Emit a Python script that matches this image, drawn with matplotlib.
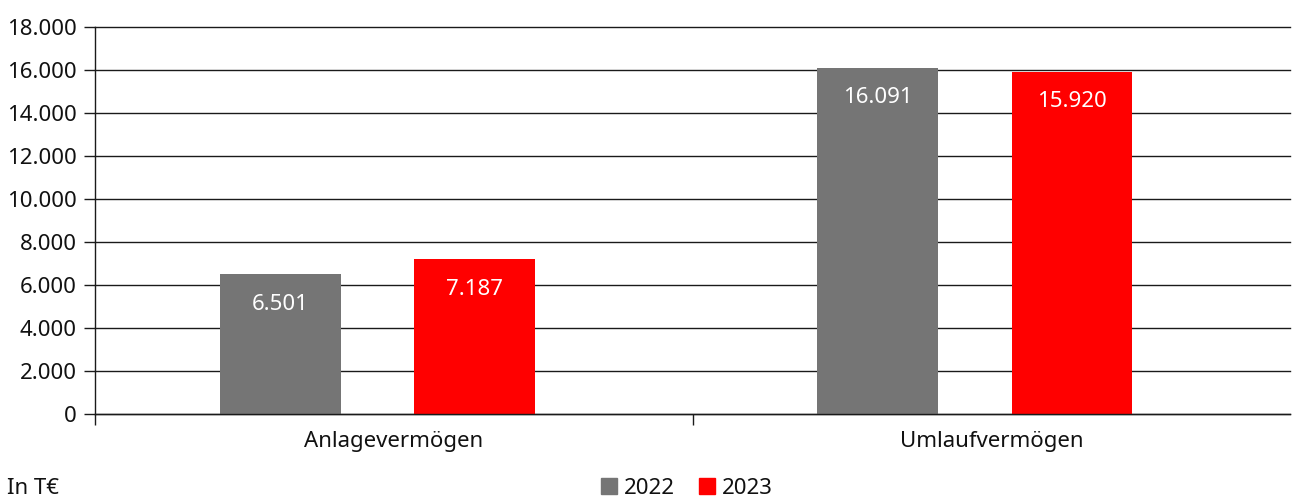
import matplotlib
matplotlib.use("Agg")
import matplotlib.pyplot as plt
import matplotlib.patches as mpatches
import numpy as np

plt.rcParams["font.family"] = ["Noto Sans", "DejaVu Sans"]

# ── data ──────────────────────────────────────────────────────────────────────
categories = ["Anlagevermögen", "Umlaufvermögen"]
years = ["2022", "2023"]
values_2022 = [6501, 16091]
values_2023 = [7187, 15920]
y_ticks = [0, 2000, 4000, 6000, 8000, 10000, 12000, 14000, 16000, 18000]

GREY = "#757575"
RED = "#FF0000"
TEXT = "#111111"
LINE = "#1A1A1A"
FS = 16


def de_fmt(v):
    return f"{v:,.0f}".replace(",", ".")


fig = plt.figure(figsize=(12.93, 5.0), dpi=100, facecolor="white")
ax = fig.add_axes([0.0735, 0.172, 0.9242, 0.774])

centers = np.arange(len(categories)) + 0.5
bar_w = 0.202
b1 = ax.bar(centers - 0.19, values_2022, width=bar_w, color=GREY, zorder=3)
b2 = ax.bar(centers + 0.135, values_2023, width=bar_w, color=RED, zorder=3)

# value labels inside the top of each bar
for bars, vals in ((b1, values_2022), (b2, values_2023)):
    for rect, v in zip(bars, vals):
        ax.annotate(de_fmt(v), (rect.get_x() + rect.get_width() / 2, v),
                    xytext=(0, -21.5), textcoords="offset points",
                    ha="center", va="center", color="white", fontsize=FS,
                    zorder=4)

ax.set_xlim(0, 2)
ax.set_ylim(0, 18000)
ax.set_yticks(y_ticks)
ax.set_yticklabels([de_fmt(t) for t in y_ticks], fontsize=FS, color=TEXT)
ax.yaxis.grid(True, color=LINE, linewidth=1.0, zorder=0)
ax.tick_params(axis="y", length=8, width=1.0, color=LINE, pad=5)
for gl in ax.get_ygridlines():
    gl.set_clip_on(False)
ax.axhline(0, color=LINE, linewidth=1.0, zorder=4, clip_on=False)

ax.set_xticks(centers)
ax.set_xticklabels(categories, fontsize=FS, color=TEXT)
ax.tick_params(axis="x", which="major", length=0, pad=12)
ax.set_xticks([0, 1], minor=True)
ax.tick_params(axis="x", which="minor", length=8, width=1.0, color=LINE)

for side in ("top", "right", "bottom"):
    ax.spines[side].set_visible(False)
ax.spines["left"].set_color(LINE)
ax.spines["left"].set_linewidth(1.0)

fig.text(7 / 1293, 1 - 488 / 500, "In T€", fontsize=FS, color=TEXT,
         ha="left", va="center")

handles = [mpatches.Patch(color=GREY, label=years[0]),
           mpatches.Patch(color=RED, label=years[1])]
fig.legend(handles=handles, loc="center", bbox_to_anchor=(687 / 1293, 1 - 488 / 500),
           ncol=2, frameon=False, fontsize=FS, handlelength=0.72,
           handleheight=0.72, handletextpad=0.3, columnspacing=1.1,
           labelcolor=TEXT)

fig.savefig("out.png", dpi=100, facecolor="white")
